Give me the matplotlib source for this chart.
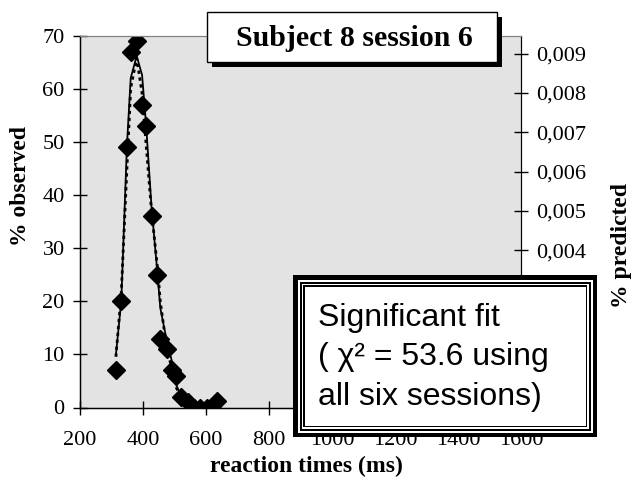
import matplotlib
matplotlib.use("Agg")
import matplotlib.pyplot as plt
from matplotlib.patches import Rectangle

# Reaction-time bins (ms) and observed percentages
rt_ms = [314, 331, 349, 361, 380, 397, 410, 427, 446, 455,
         476, 492, 506, 522, 542, 561, 582, 603, 619, 635]
observed_pct = [7, 20, 49, 67, 69, 57, 53, 36, 25, 13,
                11, 7, 6, 2, 1, 0, 0, 0, 0, 1.3]

# Model predictions (right axis)
predicted_fit = [0.00134, 0.00271, 0.00666, 0.00838, 0.00894, 0.00846, 0.00717,
                 0.00510, 0.00340, 0.00253, 0.00167, 0.00117, 0.00057, 0.00027,
                 0.00006, 0, 0, 0, 0, 0]
predicted_alt = [0.00129, 0.00291, 0.00609, 0.00813, 0.00889, 0.00800, 0.00668,
                 0.00500, 0.00355, 0.00269, 0.00146, 0.00100, 0.00050, 0.00025,
                 0.00005, 0, 0, 0, 0, 0]

x_ticks = [200, 400, 600, 800, 1000, 1200, 1400, 1600]
left_ticks = [0, 10, 20, 30, 40, 50, 60, 70]
right_ticks = [0, 0.001, 0.002, 0.003, 0.004, 0.005, 0.006, 0.007, 0.008, 0.009]
# the lower right-axis labels sit behind the note box, so only these are labelled
right_labelled = [0.004, 0.005, 0.006, 0.007, 0.008, 0.009]

title_text = "Subject 8 session 6"
note_lines = ["Significant fit", "( χ² = 53.6 using", "all six sessions)"]

W, H = 637, 500
fig = plt.figure(figsize=(W / 100, H / 100), dpi=100)
serif = ["Liberation Serif", "DejaVu Serif"]
sans = ["Liberation Sans", "DejaVu Sans"]


def fx(x):
    return x / W


def fy(y):
    return 1 - y / H


ax = fig.add_axes([fx(80), fy(407.5), fx(521) - fx(80), fy(36) - fy(407.5)])
ax.set_facecolor("#e3e3e3")
ax.set_xlim(200, 1600)
ax.set_ylim(0, 70)
for side in ["left", "bottom"]:
    ax.spines[side].set_color("black")
    ax.spines[side].set_linewidth(1.0)
ax.spines["top"].set_color("#808080")
ax.spines["right"].set_color("black")

ax.plot(rt_ms, observed_pct, linestyle="none", marker="D", color="black",
        markersize=9, zorder=3)

ax.set_xticks(x_ticks)
ax.set_xticklabels([str(v) for v in x_ticks], fontfamily=serif, fontsize=16)
ax.set_yticks(left_ticks)
ax.set_yticklabels([str(v) for v in left_ticks], fontfamily=serif, fontsize=16)
ax.tick_params(axis="both", direction="inout", length=10, width=1, pad=6)
ax.tick_params(axis="x", pad=12)

ax2 = ax.twinx()
ax2.set_ylim(0, 0.00945)
ax2.plot(rt_ms, predicted_fit, color="black", linewidth=1.3, zorder=4)
ax2.plot(rt_ms, predicted_alt, color="black", linewidth=2.0, linestyle=(0, (1.2, 1.3)),
         zorder=4)
ax2.set_yticks(right_ticks)
ax2.set_yticklabels([("%.3f" % v).replace(".", ",") if v in right_labelled else ""
                     for v in right_ticks], fontfamily=serif, fontsize=16)
ax2.tick_params(axis="y", direction="inout", length=10, width=1, pad=6)
ax2.spines["top"].set_color("#808080")
ax2.spines["right"].set_color("black")

fig.text(fx(306), fy(466), "reaction times (ms)", fontfamily=serif, fontsize=17,
         fontweight="bold", ha="center", va="center")
fig.text(fx(21), fy(186), "% observed", fontfamily=serif, fontsize=17,
         fontweight="bold", ha="center", va="center", rotation=90)
fig.text(fx(621), fy(245), "% predicted", fontfamily=serif, fontsize=17,
         fontweight="bold", ha="center", va="center", rotation=90)

# Title box with drop shadow
tb = dict(transform=fig.transFigure, figure=fig)
fig.patches.append(Rectangle((fx(212), fy(67)), fx(502) - fx(212), fy(17) - fy(67),
                             facecolor="black", edgecolor="none", zorder=10, **tb))
fig.patches.append(Rectangle((fx(207), fy(62)), fx(497) - fx(207), fy(12) - fy(62),
                             facecolor="white", edgecolor="black", linewidth=1,
                             zorder=11, **tb))
fig.text(fx(354), fy(39), title_text, fontfamily=serif, fontsize=21.5, fontweight="bold",
         ha="center", va="center", zorder=12)

# Note box with multi-line border
x0, y0, x1, y1 = 293, 275, 597, 437
fig.patches.append(Rectangle((fx(x0), fy(y1)), fx(x1) - fx(x0), fy(y0) - fy(y1),
                             facecolor="black", edgecolor="none", zorder=10, **tb))
for inset, col in [(4.5, "white"), (6.5, "black"), (8.5, "white"), (10, "black"), (11.5, "white")]:
    fig.patches.append(Rectangle((fx(x0 + inset), fy(y1 - inset)),
                                 fx(x1 - inset) - fx(x0 + inset),
                                 fy(y0 + inset) - fy(y1 - inset),
                                 facecolor=col, edgecolor="none", zorder=10, **tb))
for i, line in enumerate(note_lines):
    fig.text(fx(318), fy(318 + 39.5 * i), line, fontfamily=sans, fontsize=23,
             ha="left", va="center", zorder=12)

fig.savefig("out.png", dpi=100)
